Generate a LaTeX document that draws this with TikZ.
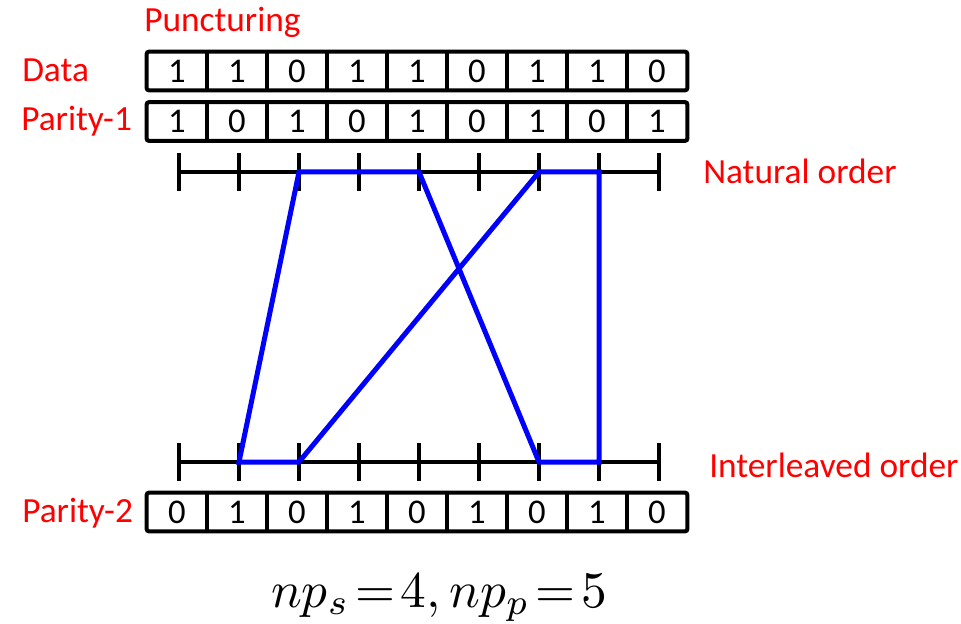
\documentclass[tikz,border=0pt]{standalone}
\usepackage{fontspec}
\setmainfont{Carlito}
\newfontfamily\lblfam{Carlito}
\begin{document}
\begin{tikzpicture}[x=0.75pt,y=-0.75pt,
  cellnode/.style={minimum width=45pt,minimum height=28.5pt,inner sep=0pt,text=black,
    font=\lblfam\fontsize{26}{30}\selectfont},
  rowbox/.style={draw=black,line width=3pt,rounded corners=1.5pt},
  divider/.style={draw=black,line width=3pt},
  lbl/.style={text=red,font=\lblfam\fontsize{26.5}{30}\selectfont,anchor=base west,inner sep=0pt},
  axisline/.style={draw=black,line width=3pt},
  tickline/.style={draw=black,line width=3pt},
  blueline/.style={draw=blue,line width=3.75pt}]
\useasboundingbox (0,0) rectangle (961,624);
% cell rows
\foreach \v [count=\i] in {1,1,0,1,1,0,1,1,0}
  \node[cellnode] (d\i) at ({177+60*(\i-1)},71) {\v};
\foreach \v [count=\i] in {1,0,1,0,1,0,1,0,1}
  \node[cellnode] (p\i) at ({177+60*(\i-1)},121.5) {\v};
\foreach \v [count=\i] in {0,1,0,1,0,1,0,1,0}
  \node[cellnode] (q\i) at ({177+60*(\i-1)},512) {\v};
\foreach \r in {d,p,q}{
  \draw[rowbox] (\r1.north west) rectangle (\r9.south east);
  \foreach \i in {1,...,8}
    \draw[divider] (\r\i.north east) -- (\r\i.south east);
}
% axes
\foreach \i in {1,...,9}{
  \coordinate (n\i) at ({179+60*(\i-1)},172);
  \coordinate (m\i) at ({179+60*(\i-1)},462);
}
\draw[axisline] (n1) -- (n9);
\draw[axisline] (m1) -- (m9);
\foreach \i in {1,...,9}{
  \draw[tickline] (n\i) ++(0,-19) -- ++(0,38);
  \draw[tickline] (m\i) ++(0,-19) -- ++(0,38);
}
% permutation
\draw[blueline] (n3) -- (n5) -- (m7) -- (m8) -- (n8) -- (n7) -- (m3) -- (m2) -- cycle;
% labels
\node[lbl] (punct) at (144,32) {Puncturing};
\node[lbl] (ldata) at (22,82) {Data};
\node[lbl] (lpar1) at (21,131) {Parity-1};
\node[lbl] (lpar2) at (22,522) {Parity-2};
\node[lbl] (lnat) at (703,184) {Natural order};
\node[lbl] (lint) at (709,477) {Interleaved order};
\node[anchor=base,inner sep=0pt,scale=3.85] (formula) at (439,607)
  {$np_s\mkern-3mu=\mkern-3mu4, np_p\mkern-3mu=\mkern-3mu5$};
\end{tikzpicture}
\end{document}
